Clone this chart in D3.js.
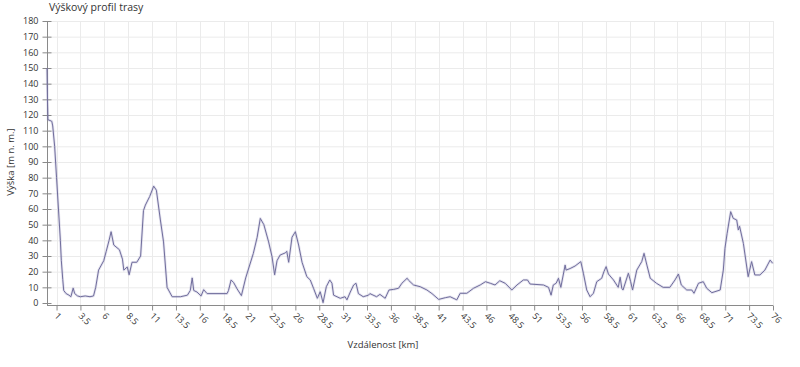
<!DOCTYPE html>
<html><head><meta charset="utf-8">
<script src="https://cdn.jsdelivr.net/npm/d3@7"></script>
<style>
body{margin:0;background:#fff;}
svg{display:block;font-family:"Open Sans",sans-serif;}
</style></head><body>
<svg id="c" width="800" height="367"></svg>
<script>
const distanceKm = [0,0.05,0.1,0.5,0.6,0.8,1.0,1.2,1.4,1.5,1.65,1.75,2.0,2.3,2.5,2.74,2.9,3.2,3.5,4.0,4.5,4.87,5.1,5.4,5.94,6.2,6.5,6.71,6.99,7.58,7.9,8.04,8.4,8.6,8.9,9.4,9.8,10.1,10.3,10.75,11.17,11.45,11.87,12.2,12.57,13.1,13.97,14.7,15.0,15.2,15.36,15.7,16.13,16.4,16.76,18.85,19.0,19.27,19.54,19.9,20.35,20.8,21.6,22.0,22.33,22.7,23.2,23.56,23.83,24.08,24.4,24.95,25.1,25.3,25.65,26.0,26.34,26.7,27.2,27.56,27.9,28.3,28.6,28.9,29.24,29.6,29.83,30.0,30.7,31.2,31.4,31.75,32.1,32.35,32.6,33.1,33.66,33.8,34.5,34.85,35.4,35.8,36.3,36.8,37.15,37.7,37.85,38.37,39.07,39.77,40.3,41.0,41.7,42.2,42.9,43.25,43.95,44.65,45.35,45.9,46.4,46.9,47.4,47.96,48.66,49.2,49.87,50.3,50.57,51.97,52.5,52.77,53.0,53.3,53.54,53.79,54.24,54.34,54.76,55.28,55.88,56.15,56.5,56.85,57.2,57.55,58.07,58.3,58.53,58.77,59.3,59.8,60.0,60.17,60.3,60.86,61.1,61.3,61.74,62.26,62.5,62.8,63.15,63.8,64.5,65.2,65.74,66.1,66.4,66.97,67.5,67.73,68.2,68.7,69.06,69.6,70.47,70.8,70.97,71.2,71.57,71.84,72.2,72.37,72.5,72.9,73.4,73.76,74.1,74.63,75.15,75.7,75.97];
const elevation = [150,130,117,116,113,100,80,60,40,27,15,8,6,5,4,9.5,6,4.5,4,4.5,4,4.5,10,21,27,33,40,45.5,37,34,28,21,23,18,26,26,30,59,62.5,68,74.6,72,53,39,10,4,4,5,8,16,8,7,4.5,8.5,6,6,8,14.7,13,9,4.7,16,31.7,42,54,50,39,29.5,18,27,30.6,32,33,26,42,45.5,37,26,16.8,14.7,9.4,3,7.2,0.2,10.4,14.7,12.6,5,3,4,2,7,11.5,12.6,6,4,5,6,4,5.5,3,8.3,8.7,9.4,12.6,15.8,14.5,11.5,10.4,8.3,6,2.3,3.4,4,2,6.2,6.2,9.4,11.5,13.6,12.6,11.5,14.2,12.6,8.3,11.5,14.7,14.7,12.1,11.5,10,5,11.5,12.6,15.8,10,24.2,21,22,23.6,26.4,19,8.3,4,6.2,13.6,15.8,20,23.2,18.5,14.7,10,16.4,9.4,8.3,19,13.6,8.3,21,26.4,31.7,24.2,15.8,12.6,10,10,14.7,18.5,11.5,8.3,8.3,6.2,12.6,13.6,9.4,6.6,8.3,21,34.9,44.5,58.3,54,53,46.6,49,38,16.8,26.4,17.9,17.9,21,27.4,25.3];
const xTickValues = d3.range(0,31).map(i => 1 + 2.5*i);
const yTickValues = d3.range(0,190,10);
const chartTitle = "Výškový profil trasy";
const xTitle = "Vzdálenost [km]";
const yTitle = "Výška [m n. m.]";

const svg = d3.select("#c");
const L = 47, R = 773, T = 21, B = 303;
const x = d3.scaleLinear().domain([0,76]).range([L,R]);
const y = d3.scaleLinear().domain([0,180]).range([B,T]);

// grid
const g = svg.append("g");
g.selectAll(".hg").data(yTickValues.filter(v=>v>0)).join("line")
  .attr("x1",L).attr("x2",R).attr("y1",d=>y(d)+0.5).attr("y2",d=>y(d)+0.5)
  .attr("stroke","#ebebeb").attr("stroke-width",1);
g.selectAll(".vg").data(xTickValues).join("line")
  .attr("x1",d=>Math.round(x(d))+0.5).attr("x2",d=>Math.round(x(d))+0.5).attr("y1",T).attr("y2",B+2)
  .attr("stroke","#ebebeb").attr("stroke-width",1);

// y axis
const yAxis = d3.axisLeft(y).tickValues(yTickValues).tickSize(5).tickPadding(4);
const ya = svg.append("g").attr("transform",`translate(${L+0.5},0)`).call(yAxis);
ya.select(".domain").attr("stroke","#8a8a8a").attr("d",`M0,${T}V${B+2}`);
ya.selectAll(".tick line").attr("stroke","#8a8a8a").attr("x1",4).attr("x2",-5);
ya.selectAll(".tick text").attr("font-size",9).attr("fill","#333").attr("font-family","Open Sans, sans-serif").attr("x",-9);

// x axis
const xAxis = d3.axisBottom(x).tickValues(xTickValues).tickSize(5).tickFormat(d3.format("~g"));
const xa = svg.append("g").attr("transform",`translate(0,${B+2.5})`).call(xAxis);
xa.select(".domain").attr("stroke","#8a8a8a").attr("d",`M${L},0H${R}`);
xa.selectAll(".tick line").attr("stroke","#8a8a8a");
xa.selectAll(".tick text").attr("font-size",9).attr("fill","#333").attr("font-family","Open Sans, sans-serif")
  .attr("text-anchor","start").attr("dy",null).attr("y",0)
  .attr("transform","translate(-3,11) rotate(45)");

// line
const data = distanceKm.map((d,i)=>[d,elevation[i]]);
const line = d3.line().x(d=>x(d[0])).y(d=>y(d[1]));
svg.append("path").datum(data).attr("d",line).attr("fill","none")
  .attr("stroke","rgba(130,126,180,0.22)").attr("stroke-width",2.6).attr("stroke-linejoin","round");
svg.append("path").datum(data).attr("d",line).attr("fill","none")
  .attr("stroke","#706d9c").attr("stroke-width",1).attr("stroke-linejoin","round");

// titles
svg.append("text").attr("x",49).attr("y",11).attr("font-size",10.5).attr("fill","#333").text(chartTitle);
svg.append("text").attr("x",383).attr("y",348).attr("text-anchor","middle").attr("font-size",9.5).attr("fill","#333").text(xTitle);
svg.append("text").attr("transform","translate(14,162) rotate(-90)").attr("text-anchor","middle").attr("font-size",9.5).attr("fill","#333").text(yTitle);
</script></body></html>
